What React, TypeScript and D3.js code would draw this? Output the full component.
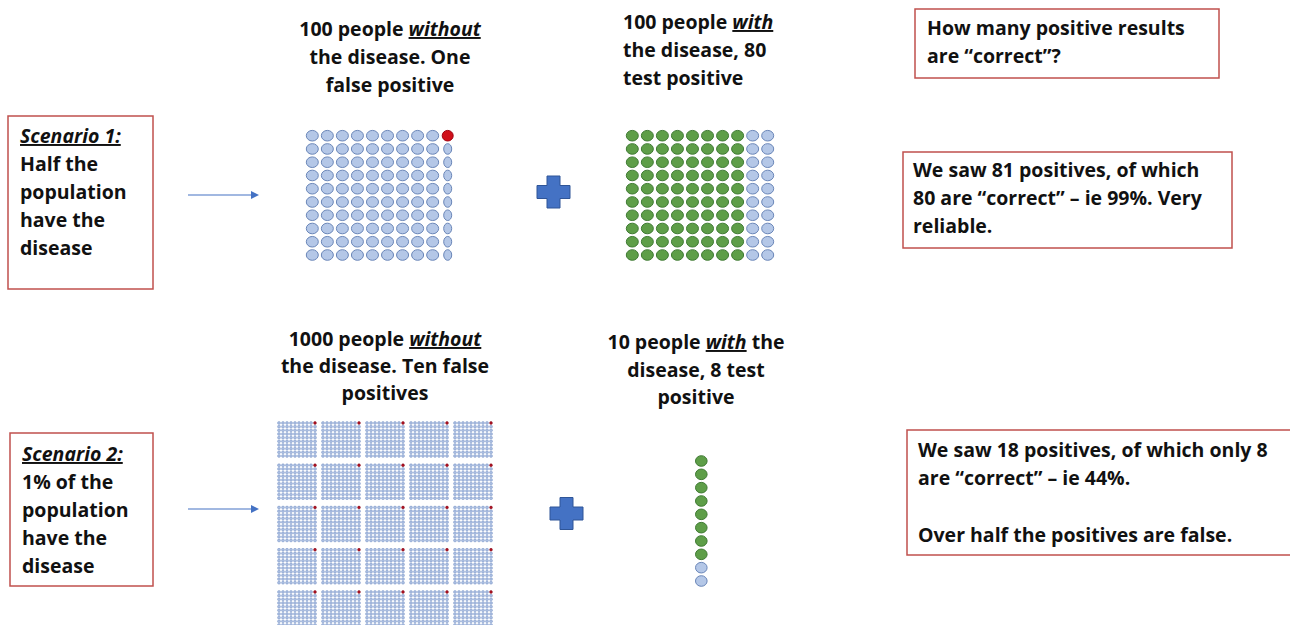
import React from "react";
import * as d3 from "d3";

// ---------- data ----------
const s1NegativeCount = [100];
const s1FalsePositiveCount = [1];
const s1PositiveCount = [100];
const s1TruePositiveCount = [80];
const s2TileGrid = [5, 5]; // tiles of 100 people (as drawn)
const s2FalsePositivesPerTile = [1];
const s2PositiveCount = [10];
const s2TruePositiveCount = [8];

const header1 = [["100 people ", "without", ""], ["the disease. One"], ["false positive"]];
const header2 = [["100 people ", "with", ""], ["the disease, 80"], ["test positive"]];
const header3 = [["1000 people ", "without", ""], ["the disease. Ten false"], ["positives"]];
const header4 = [["10 people ", "with", " the"], ["disease, 8 test"], ["positive"]];
const scenario1Text = ["Half the", "population", "have the", "disease"];
const scenario2Text = ["1% of the", "population", "have the", "disease"];
const boxAText = ["How many positive results", "are \u201ccorrect\u201d?"];
const boxBText = ["We saw 81 positives, of which", "80 are \u201ccorrect\u201d \u2013 ie 99%. Very", "reliable."];
const boxCText = ["We saw 18 positives, of which only 8", "are \u201ccorrect\u201d \u2013 ie 44%.", "", "Over half the positives are false."];

// ---------- styles ----------
const FONT = "'Open Sans', Lato, sans-serif";
const FS = 19.5;
const BLUE_FILL = "#b4c7e7";
const BLUE_STROKE = "#6a86b8";
const GREEN_FILL = "#5e9e48";
const GREEN_STROKE = "#3f7a33";
const RED_FILL = "#d0101a";
const BOX_STROKE = "#c0504d";
const TEXT = "#111";
const ARROW = "#4472c4";

type Dot = { col: number; row: number; kind: "neg" | "fp" | "pos" };

function gridDots(total: number, cols: number, special: number, mode: "fp" | "pos"): Dot[] {
  const rows = Math.ceil(total / cols);
  const out: Dot[] = [];
  for (let c = 0; c < cols; c++) {
    for (let r = 0; r < rows; r++) {
      let kind: Dot["kind"] = "neg";
      if (mode === "pos") {
        if (c * rows + r < special) kind = "pos";
      } else {
        if (c === cols - 1 && r < special) kind = "fp";
      }
      out.push({ col: c, row: r, kind });
    }
  }
  return out;
}

function Header({ lines, x, y0, dy, anchor }: { lines: string[][]; x: number; y0: number; dy: number; anchor: string }) {
  return (
    <text x={x} fontFamily={FONT} fontWeight={700} fontSize={FS} fill={TEXT} textAnchor={anchor}>
      {lines.map((l, i) => (
        <tspan key={i} x={x} y={y0 + i * dy}>
          {l[0]}
          {l[1] ? (
            <tspan fontStyle="italic" style={{ textDecoration: "underline" }}>
              {l[1]}
            </tspan>
          ) : null}
          {l[2] ? l[2] : null}
        </tspan>
      ))}
    </text>
  );
}

function Box({ x0, y0, x1, y1, tx, ty, dy, lines, title }: any) {
  return (
    <g>
      <rect x={x0} y={y0} width={x1 - x0} height={y1 - y0} fill="#fff" stroke={BOX_STROKE} strokeWidth={1.5} />
      <text fontFamily={FONT} fontWeight={700} fontSize={FS} fill={TEXT}>
        {title ? (
          <tspan x={tx} y={ty} fontStyle="italic" style={{ textDecoration: "underline" }}>
            {title}
          </tspan>
        ) : null}
        {lines.map((l: string, i: number) => (
          <tspan key={i} x={tx} y={ty + (i + (title ? 1 : 0)) * dy}>
            {l}
          </tspan>
        ))}
      </text>
    </g>
  );
}

function Plus({ cx, cy }: { cx: number; cy: number }) {
  const w = 33, h = 32, t = 13;
  const p = d3.path();
  const hw = w / 2, hh = h / 2, ht = t / 2;
  p.moveTo(cx - ht, cy - hh);
  p.lineTo(cx + ht, cy - hh);
  p.lineTo(cx + ht, cy - ht);
  p.lineTo(cx + hw, cy - ht);
  p.lineTo(cx + hw, cy + ht);
  p.lineTo(cx + ht, cy + ht);
  p.lineTo(cx + ht, cy + hh);
  p.lineTo(cx - ht, cy + hh);
  p.lineTo(cx - ht, cy + ht);
  p.lineTo(cx - hw, cy + ht);
  p.lineTo(cx - hw, cy - ht);
  p.lineTo(cx - ht, cy - ht);
  p.closePath();
  return <path d={p.toString()} fill="#4472c4" stroke="#2f5597" strokeWidth={1} />;
}

function Arrow({ x0, x1, y }: { x0: number; x1: number; y: number }) {
  return (
    <g>
      <line x1={x0} x2={x1 - 7} y1={y} y2={y} stroke={ARROW} strokeWidth={1.2} />
      <path d={`M${x1},${y} L${x1 - 8},${y - 4} L${x1 - 8},${y + 4} Z`} fill={ARROW} />
    </g>
  );
}

function fillOf(k: Dot["kind"]) {
  return k === "pos" ? GREEN_FILL : k === "fp" ? RED_FILL : BLUE_FILL;
}
function strokeOf(k: Dot["kind"]) {
  return k === "pos" ? GREEN_STROKE : k === "fp" ? "#a00010" : BLUE_STROKE;
}

export default function App() {
  const W = 1290, H = 625;

  const colX1 = d3.scaleLinear().domain([0, 9]).range([312.3, 447.7]);
  const colX2 = d3.scaleLinear().domain([0, 9]).range([632.3, 767.7]);
  const rowY = d3.scaleLinear().domain([0, 9]).range([135.7, 255]);
  const negDots = gridDots(s1NegativeCount[0], 10, s1FalsePositiveCount[0], "fp");
  const posDots = gridDots(s1PositiveCount[0], 10, s1TruePositiveCount[0], "pos");

  const tileX = d3.scaleLinear().domain([0, 4]).range([277, 453]);
  const tileY = d3.scaleLinear().domain([0, 4]).range([421, 590]);
  const inTileX = d3.scaleLinear().domain([0, 9]).range([2, 38]);
  const inTileY = d3.scaleLinear().domain([0, 9]).range([2, 35]);
  const tiles: { tc: number; tr: number }[] = [];
  for (let tr = 0; tr < s2TileGrid[0]; tr++) for (let tc = 0; tc < s2TileGrid[1]; tc++) tiles.push({ tc, tr });
  const tileDots = gridDots(100, 10, s2FalsePositivesPerTile[0], "fp");

  const colY = d3.scaleLinear().domain([0, 9]).range([461, 581]);
  const colDots = d3.range(s2PositiveCount[0]).map((i) => ({ i, kind: (i < s2TruePositiveCount[0] ? "pos" : "neg") as Dot["kind"] }));

  return (
    <svg width={W} height={H} style={{ position: "absolute", left: 0, top: 0, display: "block", background: "#fff" }}>
      <rect width={W} height={H} fill="#fff" />

      <Header lines={header1} x={390} y0={36} dy={28} anchor="middle" />
      <Header lines={header2} x={623} y0={29} dy={28} anchor="start" />
      <Header lines={header3} x={385} y0={346} dy={27} anchor="middle" />
      <Header lines={header4} x={696} y0={349} dy={27.5} anchor="middle" />

      <Box x0={8} y0={116} x1={153} y1={289} tx={20} ty={143} dy={28} title="Scenario 1:" lines={scenario1Text} />
      <Box x0={10} y0={433} x1={153} y1={586} tx={22} ty={461} dy={28} title="Scenario 2:" lines={scenario2Text} />
      <Box x0={915} y0={9} x1={1219} y1={78} tx={927} ty={35} dy={28} lines={boxAText} />
      <Box x0={903} y0={152} x1={1232} y1={248} tx={913} ty={177} dy={28} lines={boxBText} />
      <Box x0={907} y0={430} x1={1300} y1={555} tx={918} ty={457} dy={28.3} lines={boxCText} />

      <Arrow x0={188} x1={259} y={195} />
      <Arrow x0={188} x1={259} y={509} />

      <Plus cx={553.5} cy={192} />
      <Plus cx={566.5} cy={513.5} />

      <g>
        {negDots.map((d, i) => (
          <ellipse
            key={i}
            cx={colX1(d.col)}
            cy={rowY(d.row)}
            rx={d.kind === "fp" ? 5.5 : d.col === 9 ? 4 : 6}
            ry={5.3}
            fill={fillOf(d.kind)}
            stroke={strokeOf(d.kind)}
            strokeWidth={1}
          />
        ))}
      </g>
      <g>
        {posDots.map((d, i) => (
          <ellipse key={i} cx={colX2(d.col)} cy={rowY(d.row)} rx={6} ry={5.3} fill={fillOf(d.kind)} stroke={strokeOf(d.kind)} strokeWidth={1} />
        ))}
      </g>
      <g>
        {tiles.map((t, ti) => (
          <g key={ti} transform={`translate(${tileX(t.tc)},${tileY(t.tr)})`}>
            {tileDots.map((d, i) => (
              <ellipse
                key={i}
                cx={inTileX(d.col)}
                cy={inTileY(d.row)}
                rx={d.kind === "fp" ? 1.4 : 1.5}
                ry={1.4}
                fill={d.kind === "fp" ? "#b01020" : "#a9bde0"}
                stroke={d.kind === "fp" ? "#801020" : "#7c97c8"}
                strokeWidth={0.5}
              />
            ))}
          </g>
        ))}
      </g>
      <g>
        {colDots.map((d) => (
          <ellipse key={d.i} cx={701.3} cy={colY(d.i)} rx={5.8} ry={5.3} fill={fillOf(d.kind)} stroke={strokeOf(d.kind)} strokeWidth={1} />
        ))}
      </g>
    </svg>
  );
}
